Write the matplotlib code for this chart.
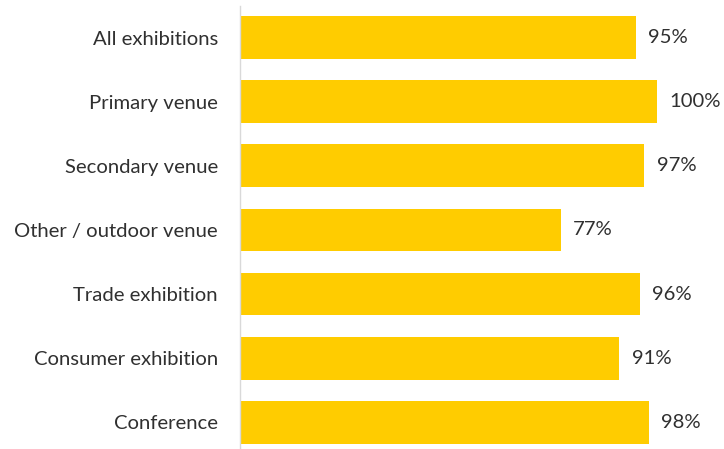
import matplotlib.pyplot as plt

# --- Share of exhibitions, by category ---
categories = ["All exhibitions", "Primary venue", "Secondary venue",
              "Other / outdoor venue", "Trade exhibition",
              "Consumer exhibition", "Conference"]
values = [95, 100, 97, 77, 96, 91, 98]

W, H = 724, 449
fig = plt.figure(figsize=(W / 100, H / 100), dpi=100)

# axes placed in pixel units: left edge at the category axis line
left_px, right_px = 240, 719.5
top_px, bottom_px = 5.75, 449
ax = fig.add_axes([left_px / W, 1 - bottom_px / H,
                   (right_px - left_px) / W, (bottom_px - top_px) / H])

y = list(range(len(categories)))
ax.barh(y, values, height=0.67, color="#FFCC00")

for yi, v in zip(y, values):
    ax.text(v + 2.9, yi, f"{v}%", va="center", ha="left",
            fontsize=14.6, color="#303030", family="Lato")

ax.set_xlim(0, 115)
ax.set_ylim(6.419, -0.5)
ax.set_yticks(y)
ax.set_yticklabels(categories, fontsize=14.6, color="#303030", family="Lato")
ax.tick_params(axis="y", length=0, pad=16)
ax.set_xticks([])

for side in ["top", "right", "bottom"]:
    ax.spines[side].set_visible(False)
ax.spines["left"].set_color("#D9D9D9")
ax.spines["left"].set_linewidth(1)

fig.savefig("out.png", dpi=100)
